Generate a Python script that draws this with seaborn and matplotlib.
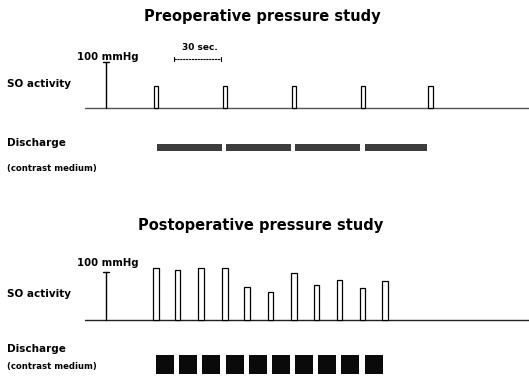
import matplotlib
matplotlib.use("Agg")
import matplotlib.pyplot as plt
import seaborn as sns

# ---- data (time in seconds from the scale-bar position, pressure in mmHg) ----
pre_times = [32, 76, 120, 164, 207]
pre_pressure = [48, 48, 48, 48, 48]
pre_discharge_start = [32.5, 76.6, 120.6, 165.3]
pre_discharge_end = [74, 118, 162, 205]

post_times = [32, 45.6, 60.6, 76, 90, 105, 120, 134.4, 149, 163.7, 178]
post_pressure = [108, 104, 108, 108, 69, 58, 97, 72, 83, 67, 81]
post_discharge_start = [32, 46.6, 61.3, 76.6, 91.3, 106, 120.6, 135.3, 150, 165.3]
post_discharge_dur = [11.5] * 10

scale_pressure = 100
scale_time_start, scale_time_end = 43.4, 73.4

titles = ["Preoperative pressure study", "Postoperative pressure study"]

sns.set_theme(style="white")
plt.rcParams['font.family'] = ['DejaVu Sans']

W, H = 529, 379
fig = plt.figure(figsize=(W / 100, H / 100), dpi=100)
fig.patch.set_facecolor("white")

XL = (-13.4, 270)


def add_ax(top_px, bottom_px, left_px=85, right_px=529):
    return fig.add_axes([left_px / W, 1 - bottom_px / H,
                         (right_px - left_px) / W, (bottom_px - top_px) / H])


def ftext(x, y, s, **kw):
    fig.text(x / W, 1 - y / H, s, transform=fig.transFigure, **kw)


def so_panel(ax, times, pressure, width, base_color):
    ax.set_xlim(*XL)
    ax.set_ylim(-10, 120)
    ax.axis("off")
    ax.plot(XL, [0, 0], color=base_color, lw=1.0, clip_on=False, zorder=1)
    ax.bar(times, pressure, width=width, bottom=0, facecolor="white",
           edgecolor="black", linewidth=0.9, zorder=2, clip_on=False)
    # 100 mmHg scale bar
    ax.plot([0, 0], [0, scale_pressure], color="black", lw=1.0, clip_on=False)
    ax.plot([-1.8, 1.8], [scale_pressure, scale_pressure], color="black",
            lw=1.0, clip_on=False)


# ---------- Preoperative ----------
ax1 = add_ax(108.5 - 120 * 0.46, 108.5 + 10 * 0.46)
so_panel(ax1, pre_times, pre_pressure, 3.0, "#555555")
# 30 sec bar
ax1.plot([scale_time_start, scale_time_end], [107.5, 107.5], color="black",
         lw=0.8, ls=(0, (2, 0.6)), clip_on=False)
for t in (scale_time_start, scale_time_end):
    ax1.plot([t, t], [103, 112], color="black", lw=0.8, clip_on=False)

ax1d = add_ax(144, 150.5)
ax1d.set_xlim(*XL)
ax1d.set_ylim(0, 1)
ax1d.axis("off")
ax1d.barh([0.5] * len(pre_discharge_start),
          [e - s for s, e in zip(pre_discharge_start, pre_discharge_end)],
          left=pre_discharge_start, height=1, color="#3d3d3d", linewidth=0)

# ---------- Postoperative ----------
ax2 = add_ax(320 - 120 * 0.48, 320 + 10 * 0.48)
so_panel(ax2, post_times, post_pressure, 3.5, "#222222")

ax2d = add_ax(355, 374)
ax2d.set_xlim(*XL)
ax2d.set_ylim(0, 1)
ax2d.axis("off")
ax2d.barh([0.5] * len(post_discharge_start), post_discharge_dur,
          left=post_discharge_start, height=1, color="#0a0a0a", linewidth=0)

# ---------- texts ----------
tkw = dict(fontweight="bold", color="black")
ftext(262, 17, titles[0], ha="center", va="center", fontsize=10.5, **tkw)
ftext(261, 225, titles[1], ha="center", va="center", fontsize=10.5, **tkw)

for ymm, yso, ydis, ycm in [(57, 84, 143, 168), (263, 294, 349, 367)]:
    ftext(77, ymm, "100 mmHg", ha="left", va="center", fontsize=7.3, **tkw)
    ftext(7, yso, "SO activity", ha="left", va="center", fontsize=7.5, **tkw)
    ftext(7, ydis, "Discharge", ha="left", va="center", fontsize=7.5, **tkw)
    ftext(7, ycm, "(contrast medium)", ha="left", va="center", fontsize=6.1, **tkw)

ftext(200, 48, "30 sec.", ha="center", va="center", fontsize=6.5, **tkw)

fig.savefig("out.png", dpi=100, facecolor="white")
